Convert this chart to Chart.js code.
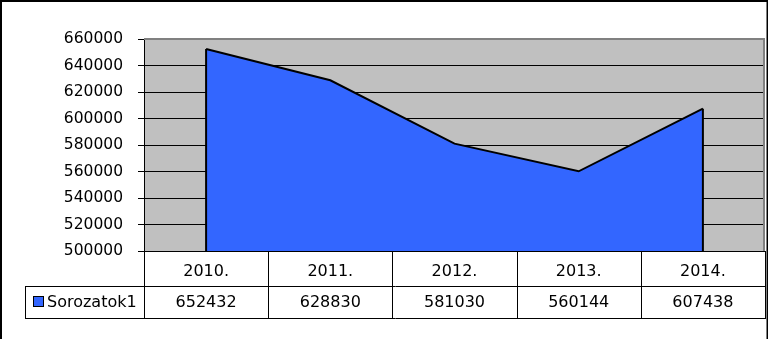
<!DOCTYPE html>
<html>
<head>
<meta charset="utf-8">
<script src="https://cdn.jsdelivr.net/npm/chart.js@4/dist/chart.umd.min.js"></script>
<style>
  html, body { margin: 0; padding: 0; background: #fff; }
  #wrap { width: 768px; height: 339px; }
</style>
</head>
<body>
<div id="wrap"><canvas id="chart" width="768" height="339"></canvas></div>
<script>
// adatok
const categories = ["2010.", "2011.", "2012.", "2013.", "2014."];
const seriesName = "Sorozatok1";
const values = [652432, 628830, 581030, 560144, 607438];
const yMin = 500000;
const yMax = 660000;
const yStep = 20000;

const FONT = "DejaVu Sans";
const BLUE = "#3366FF";
const GRAY = "#C0C0C0";

// tábla + keret + terület oldalai
const tablePlugin = {
  id: "tablePlugin",
  beforeDraw(chart) {
    const { ctx, chartArea: a } = chart;
    ctx.save();
    ctx.fillStyle = "#fff";
    ctx.fillRect(0, 0, chart.width, chart.height);
    ctx.fillStyle = GRAY;
    ctx.fillRect(a.left, a.top, a.right - a.left, a.bottom - a.top);
    ctx.restore();
  },
  afterDatasetsDraw(chart) {
    const { ctx, chartArea: a } = chart;
    const meta = chart.getDatasetMeta(0);
    const first = meta.data[0];
    const last = meta.data[meta.data.length - 1];
    ctx.save();
    // függőleges élek a terület két szélén
    ctx.strokeStyle = "#000";
    ctx.lineWidth = 2;
    ctx.beginPath();
    ctx.moveTo(first.x, first.y);
    ctx.lineTo(first.x, a.bottom);
    ctx.moveTo(last.x, last.y);
    ctx.lineTo(last.x, a.bottom);
    ctx.stroke();
    // rajzterület szürke kerete (fent, jobbra)
    ctx.strokeStyle = "#808080";
    ctx.lineWidth = 2;
    ctx.beginPath();
    ctx.moveTo(a.left, a.top);
    ctx.lineTo(a.right - 1, a.top);
    ctx.lineTo(a.right - 1, a.bottom);
    ctx.stroke();
    ctx.restore();
  },
  afterDraw(chart) {
    const { ctx, chartArea: a } = chart;
    const n = categories.length;
    const colW = (a.right - a.left) / n;
    const row1 = a.bottom + 35;
    const row2 = row1 + 32;
    const keyLeft = 25;

    ctx.save();
    ctx.strokeStyle = "#000";
    ctx.lineWidth = 1;
    ctx.beginPath();
    for (let i = 0; i <= n; i++) {
      const x = Math.round(a.left + i * colW) + 0.5;
      ctx.moveTo(x, a.bottom);
      ctx.lineTo(x, row2);
    }
    ctx.moveTo(keyLeft + 0.5, row1);
    ctx.lineTo(keyLeft + 0.5, row2);
    ctx.moveTo(keyLeft, row1 + 0.5);
    ctx.lineTo(a.right + 1, row1 + 0.5);
    ctx.moveTo(keyLeft, row2 + 0.5);
    ctx.lineTo(a.right + 1, row2 + 0.5);
    ctx.stroke();

    // jelmagyarázat kulcs
    const ym = (row1 + row2) / 2;
    ctx.fillStyle = BLUE;
    ctx.fillRect(33, ym - 5, 10, 10);
    ctx.strokeRect(33.5, ym - 5.5, 10, 10);

    ctx.fillStyle = "#000";
    ctx.font = "16px '" + FONT + "'";
    ctx.textBaseline = "middle";
    ctx.textAlign = "left";
    ctx.fillText(seriesName, 47, ym + 1);
    ctx.textAlign = "center";
    const xs = chart.scales.x;
    values.forEach((v, i) => {
      ctx.fillText(String(v), xs.getPixelForValue(i), ym + 1);
    });

    // külső keret
    ctx.fillStyle = "#000";
    ctx.fillRect(0, 0, 2, chart.height);
    ctx.fillRect(0, 0, chart.width, 2);
    ctx.fillRect(chart.width - 1.5, 0, 1.5, chart.height);
    ctx.restore();
  }
};

new Chart(document.getElementById("chart"), {
  type: "line",
  data: {
    labels: categories,
    datasets: [{
      label: seriesName,
      data: values,
      fill: "start",
      backgroundColor: BLUE,
      borderColor: "#000",
      borderWidth: 2,
      pointRadius: 0,
      tension: 0
    }]
  },
  options: {
    responsive: false,
    animation: false,
    devicePixelRatio: 1,
    layout: { padding: { left: 0, top: 39, right: 3, bottom: 0 } },
    plugins: {
      legend: { display: false },
      tooltip: { enabled: false }
    },
    scales: {
      x: {
        type: "category",
        offset: true,
        grid: { display: false },
        border: { color: "#000", width: 1 },
        ticks: {
          color: "#000",
          font: { family: FONT, size: 16 },
          padding: 3,
          maxRotation: 0,
          autoSkip: false
        },
        afterFit(scale) { scale.height = 88; }
      },
      y: {
        min: yMin,
        max: yMax,
        border: { color: "#000", width: 1 },
        grid: {
          color: (c) => c.tick && c.tick.value === yMax ? "rgba(0,0,0,0)" : "#000",
          lineWidth: 1,
          tickLength: 6,
          tickColor: "#000"
        },
        ticks: {
          stepSize: yStep,
          color: "#000",
          font: { family: FONT, size: 15.5 },
          padding: 15,
          callback: (v) => String(v)
        },
        afterFit(scale) { scale.width = 144; }
      }
    }
  },
  plugins: [tablePlugin]
});
</script>
</body>
</html>
